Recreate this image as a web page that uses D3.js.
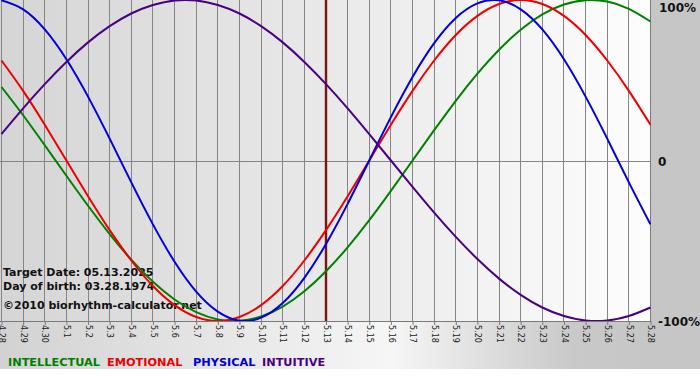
<!DOCTYPE html>
<html><head><meta charset="utf-8">
<script src="https://cdn.jsdelivr.net/npm/d3@7"></script>
<style>
html,body{margin:0;padding:0;background:#fff;}
svg{display:block;}
</style></head>
<body>
<svg id="chart" width="700" height="380"></svg>
<script>
const dates = ["4.28","4.29","4.30","5.1","5.2","5.3","5.4","5.5","5.6","5.7","5.8","5.9","5.10","5.11","5.12","5.13","5.14","5.15","5.16","5.17","5.18","5.19","5.20","5.21","5.22","5.23","5.24","5.25","5.26","5.27","5.28"];
const intellectual = [0.458,0.282,0.095,-0.095,-0.282,-0.458,-0.618,-0.756,-0.866,-0.945,-0.990,-0.999,-0.972,-0.910,-0.815,-0.690,-0.541,-0.372,-0.189,0,0.189,0.372,0.541,0.690,0.815,0.910,0.972,0.999,0.990,0.945,0.866];
const emotional = [0.623,0.434,0.223,0,-0.223,-0.434,-0.623,-0.782,-0.901,-0.975,-1,-0.975,-0.901,-0.782,-0.623,-0.434,-0.223,0,0.223,0.434,0.623,0.782,0.901,0.975,1,0.975,0.901,0.782,0.623,0.434,0.223];
const physical = [0.998,0.942,0.817,0.631,0.398,0.136,-0.136,-0.398,-0.631,-0.817,-0.942,-0.998,-0.979,-0.888,-0.731,-0.520,-0.270,0,0.270,0.520,0.731,0.888,0.979,0.998,0.942,0.817,0.631,0.398,0.136,-0.136,-0.398];
const intuitive = [0.165,0.325,0.476,0.614,0.736,0.837,0.916,0.969,0.997,0.997,0.969,0.916,0.837,0.736,0.614,0.476,0.325,0.165,0,-0.165,-0.325,-0.476,-0.614,-0.736,-0.837,-0.916,-0.969,-0.997,-0.997,-0.969,-0.916];
const yTicks = [1, 0, -1];
const yTickLabels = ["100%", "0", "-100%"];
const targetDate = "5.13";
const infoLines = ["Target Date: 05.13.2025", "Day of birth: 03.28.1974", "\u00A92010 biorhythm-calculator.net"];
const legendNames = ["INTELLECTUAL", "EMOTIONAL", "PHYSICAL", "INTUITIVE"];

const series = [
  {name:"INTELLECTUAL", values: intellectual, color:"#008000"},
  {name:"EMOTIONAL", values: emotional, color:"#ee0000"},
  {name:"PHYSICAL", values: physical, color:"#0000dd"},
  {name:"INTUITIVE", values: intuitive, color:"#4b0082"}
];

const svg = d3.select("#chart");
const W = 700, plotW = 651, plotH = 321, bgH = 369;

const defs = svg.append("defs");
const g1 = defs.append("linearGradient").attr("id","plotGrad").attr("x1","0").attr("x2","1").attr("y1","0").attr("y2","0");
g1.append("stop").attr("offset","0").attr("stop-color","#d5d5d5");
g1.append("stop").attr("offset","1").attr("stop-color","#fdfdfd");
const g2 = defs.append("linearGradient").attr("id","botGrad").attr("x1","0").attr("x2","1").attr("y1","0").attr("y2","0");
g2.append("stop").attr("offset","0").attr("stop-color","#d2d2d2");
g2.append("stop").attr("offset","0.6").attr("stop-color","#f6f6f6");
g2.append("stop").attr("offset","0.88").attr("stop-color","#c9c9c9");
g2.append("stop").attr("offset","1").attr("stop-color","#c6c6c6");
defs.append("clipPath").attr("id","clip").append("rect").attr("x",0).attr("y",0).attr("width",plotW).attr("height",plotH);

svg.append("rect").attr("x",0).attr("y",0).attr("width",W).attr("height",bgH).attr("fill","#c6c6c6");
svg.append("rect").attr("x",0).attr("y",plotH).attr("width",plotW).attr("height",bgH-plotH).attr("fill","url(#botGrad)");
svg.append("rect").attr("x",0).attr("y",0).attr("width",plotW).attr("height",plotH).attr("fill","url(#plotGrad)");

const x = d3.scalePoint().domain(dates).range([1, 650]);
const y = d3.scaleLinear().domain([-1, 1]).range([plotH, 0]);

// vertical grid
svg.append("g").selectAll("line").data(dates).join("line")
  .attr("x1", d => Math.round(x(d)) + 0.5).attr("x2", d => Math.round(x(d)) + 0.5)
  .attr("y1", 0).attr("y2", plotH)
  .attr("stroke", "#858585").attr("stroke-width", 1);

// zero line
svg.append("line").attr("x1",0).attr("x2",plotW).attr("y1",Math.round(y(0))+0.5).attr("y2",Math.round(y(0))+0.5)
  .attr("stroke","#858585").attr("stroke-width",1);

// plot border
svg.append("line").attr("x1",plotW-0.5).attr("x2",plotW-0.5).attr("y1",0).attr("y2",plotH).attr("stroke","#7a7a7a");
svg.append("line").attr("x1",0).attr("x2",plotW).attr("y1",plotH+0.5).attr("y2",plotH+0.5).attr("stroke","#7a7a7a");

// x axis
const xAxis = svg.append("g").attr("transform", `translate(0.5,${plotH})`)
  .call(d3.axisBottom(x).tickSize(4).tickSizeOuter(0));
xAxis.select(".domain").remove();
xAxis.selectAll(".tick line").attr("stroke","#7a7a7a");
xAxis.selectAll(".tick text")
  .attr("font-family","DejaVu Sans, Verdana, sans-serif").attr("font-size","8px").attr("fill","#1a1a1a")
  .attr("text-anchor","start").attr("x",0).attr("y",0).attr("dy","0.35em")
  .attr("transform","translate(0,4) rotate(90)");

// info text
svg.append("g").selectAll("text").data(infoLines).join("text")
  .attr("x", 3).attr("y", (d,i) => [276, 290, 309][i])
  .attr("font-family","DejaVu Sans, Verdana, sans-serif").attr("font-weight","bold").attr("font-size","11px")
  .attr("fill","#111").text(d => d);

// target line
svg.append("line").attr("x1", x(targetDate)+0.5).attr("x2", x(targetDate)+0.5).attr("y1",0).attr("y2",plotH)
  .attr("stroke","#7a1515").attr("stroke-width",2.4);

// curves
const line = d3.line().x((d,i) => x(dates[i]) + 0.5).y(d => y(d)).curve(d3.curveNatural);
svg.append("g").attr("clip-path","url(#clip)").selectAll("path").data(series).join("path")
  .attr("d", d => line(d.values)).attr("fill","none").attr("stroke", d => d.color).attr("stroke-width", 2);

// right y labels
const yOff = [8, 1, 1];
svg.append("g").selectAll("text").data(yTicks).join("text")
  .attr("x", (d,i) => i === 1 ? 658 : (i === 0 ? 659 : 658)).attr("y", (d,i) => y(d) + yOff[i])
  .attr("dy","0.35em")
  .attr("font-family","DejaVu Sans, Verdana, sans-serif").attr("font-weight","bold").attr("font-size","12px")
  .attr("fill","#111").text((d,i) => yTickLabels[i]);

// legend
const legX = [8, 107, 193, 262];
svg.append("g").selectAll("text").data(series).join("text")
  .attr("x", (d,i) => legX[i]).attr("y", 366)
  .attr("font-family","DejaVu Sans, Verdana, sans-serif").attr("font-weight","bold").attr("font-size","11.3px")
  .attr("fill", d => d.color).text((d,i) => legendNames[i]);
</script>
</body></html>
